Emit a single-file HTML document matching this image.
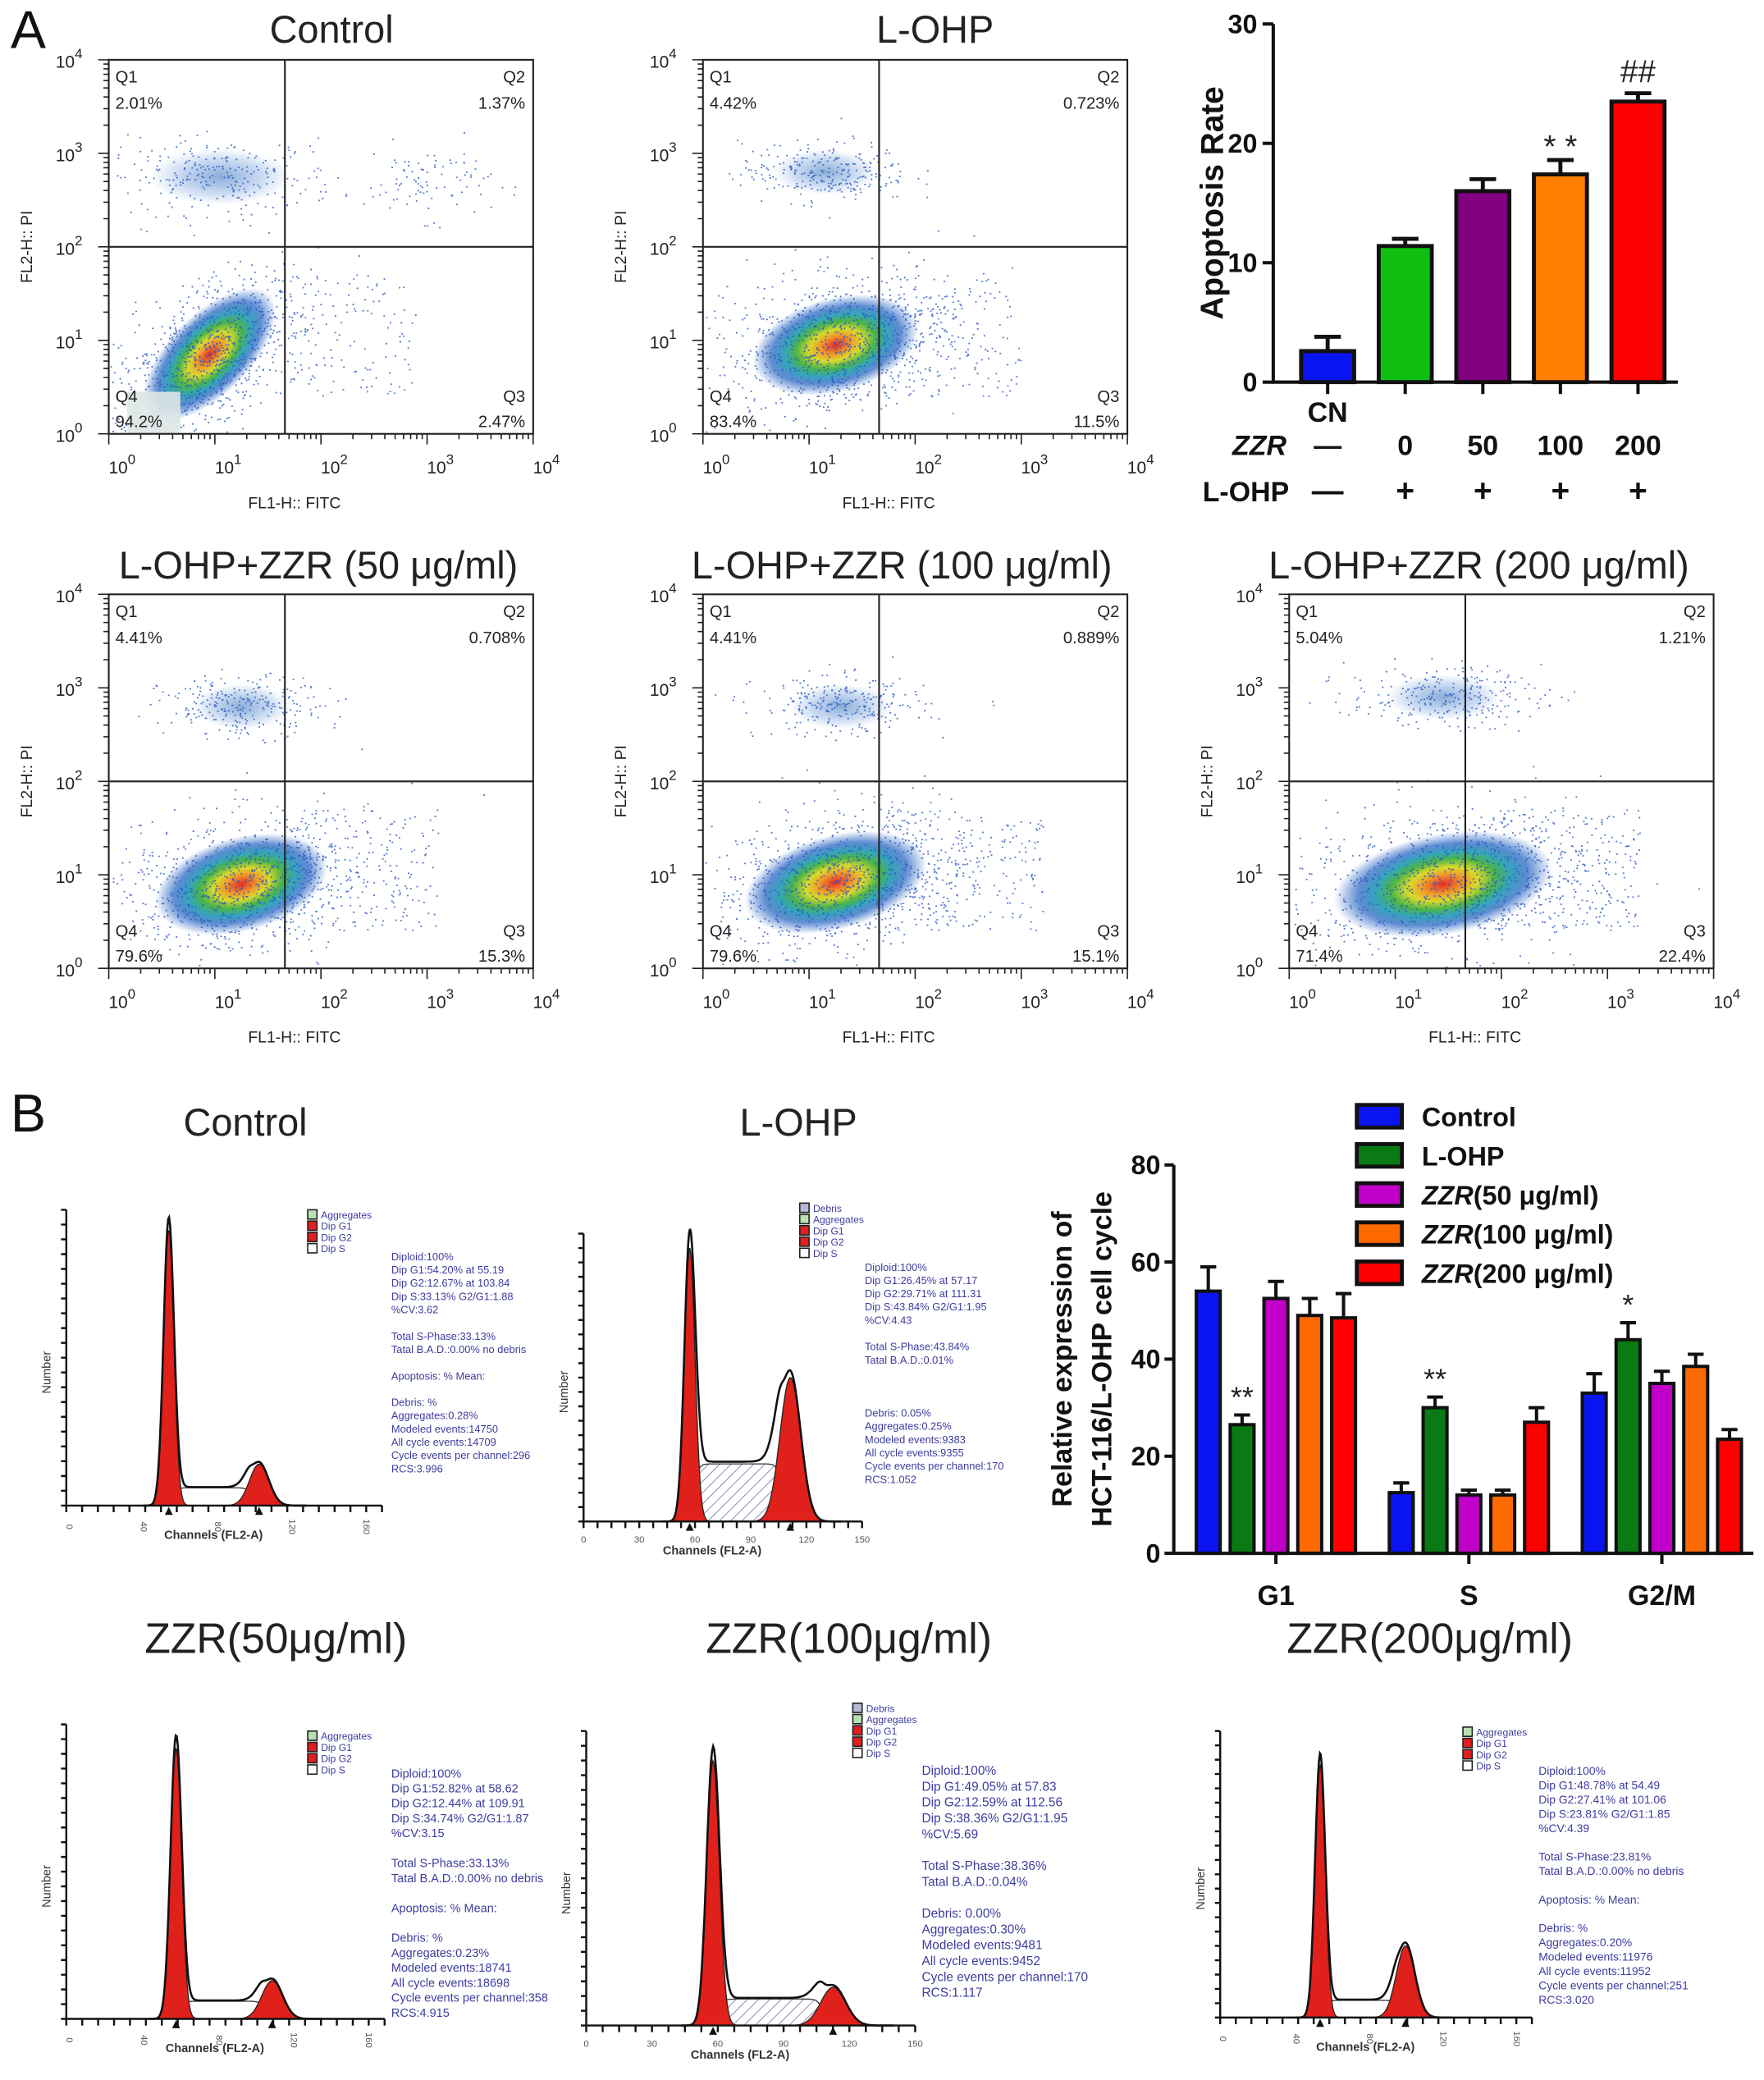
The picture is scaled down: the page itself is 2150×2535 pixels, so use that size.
<!DOCTYPE html>
<html><head><meta charset="utf-8"><style>
html,body{margin:0;padding:0;background:#fff;}
svg{display:block;font-family:"Liberation Sans",Arial,sans-serif;}
</style></head><body>
<svg id="fig" xmlns="http://www.w3.org/2000/svg" width="2150" height="2535" viewBox="0 0 1330 1568">
<rect x="0" y="0" width="1330" height="1568" fill="#fff"/>
<defs>
<radialGradient id="cloud" cx="50%" cy="50%" r="50%">
<stop offset="0" stop-color="#e8201a"/>
<stop offset="0.18" stop-color="#f09020"/>
<stop offset="0.32" stop-color="#d8d820"/>
<stop offset="0.48" stop-color="#40b040"/>
<stop offset="0.62" stop-color="#2aa0b8"/>
<stop offset="0.78" stop-color="#2060c0" stop-opacity="0.75"/>
<stop offset="1" stop-color="#2060c0" stop-opacity="0"/>
</radialGradient>
<radialGradient id="cloudUp" cx="50%" cy="50%" r="50%">
<stop offset="0" stop-color="#2a6ab8" stop-opacity="0.55"/>
<stop offset="0.6" stop-color="#3070c8" stop-opacity="0.25"/>
<stop offset="1" stop-color="#3070c8" stop-opacity="0"/>
</radialGradient>
<pattern id="hatch" width="6" height="6" patternUnits="userSpaceOnUse" patternTransform="rotate(45)">
<rect width="6" height="6" fill="#fff"/><line x1="0" y1="0" x2="0" y2="6" stroke="#7070a0" stroke-width="1"/>
</pattern>
</defs>
<g id="root"></g>
</svg>
<script>
// ---------- Panel A bar chart data ----------
const aptCats = ['CN','0','50','100','200'];
const aptLOHP = ['—','+','+','+','+'];
const aptZZR = ['—','0','50','100','200'];
const aptValues = [2.6, 11.4, 16.0, 17.4, 23.5];
const aptErrors = [1.2, 0.6, 1.0, 1.2, 0.7];
const aptTicks = [0, 10, 20, 30];
const aptColors = ['#0a14f0','#10c010','#800080','#ff8000','#ff0000'];
// ---------- Panel B bar chart data ----------
const ccPhases = ['G1','S','G2/M'];
const ccSeries = ['Control','L-OHP','ZZR(50 μg/ml)','ZZR(100 μg/ml)','ZZR(200 μg/ml)'];
const ccControl = [54, 12.5, 33];
const ccLOHP = [26.5, 30, 44];
const ccZZR50 = [52.5, 12, 35];
const ccZZR100 = [49, 12, 38.5];
const ccZZR200 = [48.5, 27, 23.5];
const ccErrControl = [5, 2, 4];
const ccErrLOHP = [2, 2.2, 3.5];
const ccErrZZR50 = [3.5, 1, 2.5];
const ccErrZZR100 = [3.5, 1, 2.5];
const ccErrZZR200 = [5, 3, 2];
const ccTicks = [0, 20, 40, 60, 80];
const ccColors = ['#0a14f0','#0a7a14','#c000c8','#ff6a00','#ff0000'];
// ---------- Flow plots quadrant percentages ----------
const flowTitles = ['Control','L-OHP','L-OHP+ZZR (50 μg/ml)','L-OHP+ZZR (100 μg/ml)','L-OHP+ZZR (200 μg/ml)'];
const flowQ1 = ['2.01%','4.42%','4.41%','4.41%','5.04%'];
const flowQ2 = ['1.37%','0.723%','0.708%','0.889%','1.21%'];
const flowQ3 = ['2.47%','11.5%','15.3%','15.1%','22.4%'];
const flowQ4 = ['94.2%','83.4%','79.6%','79.6%','71.4%'];

const NS='http://www.w3.org/2000/svg';
const root=document.getElementById('root');
function mk(tag,attrs,parent){const e=document.createElementNS(NS,tag);for(const k in attrs)e.setAttribute(k,attrs[k]);(parent||root).appendChild(e);return e;}
function nm(e,n){


return e;}
function txt(x,y,s,attrs,parent){const t=mk('text',Object.assign({x:x,y:y},attrs),parent);t.textContent=s;return t;}
function pw(x,y,exp,size,parent,anchor){const t=mk('text',{x:x,y:y,'font-size':size,fill:'#222','text-anchor':anchor||'middle'},parent);t.textContent='10';const s=mk('tspan',{dy:-size*0.55,'font-size':size*0.8},t);s.textContent=exp;return t;}

nm(txt(8,36,'A',{'font-size':40,fill:'#111'}),'panel-a-label');
nm(txt(8,853,'B',{'font-size':40,fill:'#111'}),'panel-b-label');

// ---------- Flow plots ----------
let seed=12345;function rnd(){seed=(seed*1103515245+12345)%2147483648;return seed/2147483648;}
function gauss(){let u=rnd()||1e-6,v=rnd();return Math.sqrt(-2*Math.log(u))*Math.cos(2*Math.PI*v);}
const flowPos=[[82,45],[530,45],[82,448],[530,448],[972,448]];
const flowMain=[[0.95,0.85,0.5,0.24,-45],[1.25,0.95,0.5,0.28,-15],[1.25,0.9,0.52,0.28,-15],[1.25,0.92,0.55,0.28,-15],[1.45,0.9,0.65,0.3,-10]];
const flowUp=[[1.05,2.75,0.55,0.2],[1.15,2.8,0.4,0.16],[1.25,2.8,0.38,0.16],[1.3,2.8,0.4,0.16],[1.45,2.9,0.45,0.16]];
const titleX=[250,705,240,680,1115];
const titleY=[32,32,436,436,436];
flowPos.forEach((p,i)=>{
 const g=nm(mk('g',{}),'flow-plot-'+(i+1));
 const [px,py]=p,w=320,h=282,dx=w/4,dy=h/4;
 const X=d=>px+d*dx,Y=d=>py+h-d*dy;
 nm(txt(titleX[i],titleY[i],flowTitles[i],{'font-size':29,'text-anchor':'middle',fill:'#222'},g),'flow-title');
 const m=flowMain[i];
 const cx=X(m[0]),cy=Y(m[1]);
 nm(mk('ellipse',{cx:cx,cy:cy,rx:m[2]*dx*1.6,ry:m[3]*dy*1.8,fill:'url(#cloud)',transform:`rotate(${m[4]} ${cx} ${cy})`,opacity:0.95},g),'cell-density-cloud');
 const u=flowUp[i];
 nm(mk('ellipse',{cx:X(u[0]),cy:Y(u[1]),rx:u[2]*dx*1.2,ry:u[3]*dy*1.5,fill:'url(#cloudUp)'},g),'dead-cell-cloud');
 let d='';
 const dot=(x,y)=>{if(x>px+1&&x<px+w-1&&y>py+1&&y<py+h-1)d+=`M${x.toFixed(1)} ${y.toFixed(1)}h1.2`;};
 for(let k=0;k<900;k++){const a=gauss()*m[2]*1.1,b=gauss()*m[3]*1.3,r=m[4]*Math.PI/180;dot(cx+(a*Math.cos(r)-b*Math.sin(r))*dx,cy+(a*Math.sin(r)+b*Math.cos(r))*dy);}
 for(let k=0;k<260;k++)dot(X(u[0]+gauss()*u[2]),Y(u[1]+gauss()*u[3]));
 if(i===0)for(let k=0;k<90;k++)dot(X(3.0+gauss()*0.3),Y(2.7+gauss()*0.2));
 for(let k=0;k<120+i*40;k++)dot(X(1.7+rnd()*(1.2+i*0.1)),Y(0.4+rnd()*1.3));
 nm(mk('path',{d:d,stroke:'#2858c0','stroke-width':1.1,fill:'none',opacity:0.8},g),'cell-dots');
 if(i===0)nm(mk('rect',{x:px+14,y:Y(0.45),width:40,height:h-(Y(0.45)-py)-0.5,fill:'#dde6e6',opacity:0.9},g),'gate-highlight');
 nm(mk('rect',{x:px,y:py,width:w,height:h,fill:'none',stroke:'#222','stroke-width':1.3},g),'plot-frame');
 const qx=X(1.66),qy=Y(2);
 nm(mk('line',{x1:qx,y1:py,x2:qx,y2:py+h,stroke:'#222','stroke-width':1.3},g),'quadrant-vertical');
 nm(mk('line',{x1:px,y1:qy,x2:px+w,y2:qy,stroke:'#222','stroke-width':1.3},g),'quadrant-horizontal');
 let t='';
 for(let dd=0;dd<4;dd++)for(let k=1;k<=10;k++){const f=dd+Math.log10(k);const L=k===1?8:4;t+=`M${X(f)} ${py+h}v${L}M${px} ${Y(f)}h${-L}`;}
 t+=`M${X(4)} ${py+h}v8M${px} ${Y(4)}h-8`;
 nm(mk('path',{d:t,stroke:'#222','stroke-width':1},g),'axis-ticks');
 for(let k=0;k<=4;k++){nm(pw(X(k)+10,py+h+30,String(k),13,g),'x-tick-label');nm(pw(px-30,Y(k)+6,String(k),13,g),'y-tick-label');}
 nm(txt(px+w/2-20,py+h+56,'FL1-H:: FITC',{'font-size':12,'text-anchor':'middle',fill:'#222'},g),'x-axis-title');
 nm(txt(0,0,'FL2-H:: PI',{'font-size':12,'text-anchor':'middle',fill:'#222',transform:`translate(${px-58},${py+h/2}) rotate(-90)`},g),'y-axis-title');
 const fs=12.5;
 nm(txt(px+5,py+17,'Q1',{'font-size':fs,fill:'#222'},g),'q1-label');
 nm(txt(px+5,py+37,flowQ1[i],{'font-size':fs,fill:'#222'},g),'q1-percent');
 nm(txt(px+w-6,py+17,'Q2',{'font-size':fs,fill:'#222','text-anchor':'end'},g),'q2-label');
 nm(txt(px+w-6,py+37,flowQ2[i],{'font-size':fs,fill:'#222','text-anchor':'end'},g),'q2-percent');
 nm(txt(px+5,py+h-24,'Q4',{'font-size':fs,fill:'#222'},g),'q4-label');
 nm(txt(px+5,py+h-5,flowQ4[i],{'font-size':fs,fill:'#222'},g),'q4-percent');
 nm(txt(px+w-6,py+h-24,'Q3',{'font-size':fs,fill:'#222','text-anchor':'end'},g),'q3-label');
 nm(txt(px+w-6,py+h-5,flowQ3[i],{'font-size':fs,fill:'#222','text-anchor':'end'},g),'q3-percent');
});

// ---------- Panel A bar chart ----------
(function(){
 const g=nm(mk('g',{}),'apoptosis-bar-chart');
 const y0=288,ppu=9,ax=960,axEnd=1265;
 const yS=v=>y0-v*ppu, xS=i=>1001+i*58.5, bw=40;
 aptValues.forEach((v,i)=>{
  const x=xS(i);
  const e=aptErrors[i];
  nm(mk('path',{d:`M${x} ${yS(v)}V${yS(v+e)}M${x-10} ${yS(v+e)}h20`,stroke:'#111','stroke-width':3,fill:'none'},g),'error-bar');
  nm(mk('rect',{x:x-bw/2,y:yS(v),width:bw,height:v*ppu,fill:aptColors[i],stroke:'#111','stroke-width':3},g),'bar-'+aptCats[i]);
  nm(mk('line',{x1:x,y1:y0,x2:x,y2:y0+9,stroke:'#111','stroke-width':2.5},g),'x-tick');
  nm(txt(x,343,aptZZR[i],{'font-size':21,'font-weight':'bold','text-anchor':'middle',fill:'#111'},g),'zzr-dose-label');
  nm(txt(x,378,aptLOHP[i],{'font-size':24,'font-weight':'bold','text-anchor':'middle',fill:'#111'},g),'lohp-sign');
 });
 nm(mk('path',{d:`M${ax} ${yS(30)}V${y0}H${axEnd}`,stroke:'#111','stroke-width':2.5,fill:'none'},g),'axes');
 aptTicks.forEach(v=>{
  nm(mk('line',{x1:ax-8,y1:yS(v),x2:ax,y2:yS(v),stroke:'#111','stroke-width':2.5},g),'y-tick');
  nm(txt(ax-12,yS(v)+7,String(v),{'font-size':20,'font-weight':'bold','text-anchor':'end',fill:'#111'},g),'y-tick-label');
 });
 nm(txt(0,0,'Apoptosis Rate',{'font-size':24,'font-weight':'bold','text-anchor':'middle',fill:'#111',transform:`translate(922,${yS(15)}) rotate(-90)`},g),'y-axis-title');
 nm(txt(xS(0),318,'CN',{'font-size':21,'font-weight':'bold','text-anchor':'middle',fill:'#111'},g),'cn-label');
 nm(txt(970,343,'ZZR',{'font-size':21,'font-weight':'bold','font-style':'italic','text-anchor':'end',fill:'#111'},g),'zzr-row-label');
 nm(txt(972,378,'L-OHP',{'font-size':21,'font-weight':'bold','text-anchor':'end',fill:'#111'},g),'lohp-row-label');
 nm(txt(xS(3),yS(aptValues[3]+aptErrors[3])-2,'* *',{'font-size':24,'text-anchor':'middle',fill:'#222'},g),'significance-stars');
 nm(txt(xS(4),yS(aptValues[4]+aptErrors[4])-8,'##',{'font-size':24,'text-anchor':'middle',fill:'#222'},g),'significance-hash');
})();

// ---------- Panel B bar chart ----------
(function(){
 const g=nm(mk('g',{}),'cell-cycle-bar-chart');
 const y0=1171,ppu=3.66,ax=885,axEnd=1322;
 const yS=v=>y0-v*ppu, bw=18;
 const xS=(gi,si)=>911+gi*145.5+si*25.5;
 const series=[ccControl,ccLOHP,ccZZR50,ccZZR100,ccZZR200];
 const errs=[ccErrControl,ccErrLOHP,ccErrZZR50,ccErrZZR100,ccErrZZR200];
 series.forEach((arr,si)=>arr.forEach((v,gi)=>{
  const x=xS(gi,si),e=errs[si][gi];
  nm(mk('path',{d:`M${x} ${yS(v)}V${yS(v+e)}M${x-6} ${yS(v+e)}h12`,stroke:'#111','stroke-width':2.5,fill:'none'},g),'error-bar');
  nm(mk('rect',{x:x-bw/2,y:yS(v),width:bw,height:v*ppu,fill:ccColors[si],stroke:'#111','stroke-width':2.5},g),'bar-'+ccPhases[gi]+'-'+si);
 }));
 nm(mk('path',{d:`M${ax} ${yS(80)}V${y0}H${axEnd}`,stroke:'#111','stroke-width':2.5,fill:'none'},g),'axes');
 ccTicks.forEach(v=>{
  nm(mk('line',{x1:ax-7,y1:yS(v),x2:ax,y2:yS(v),stroke:'#111','stroke-width':2.5},g),'y-tick');
  nm(txt(ax-10,yS(v)+7,String(v),{'font-size':20,'font-weight':'bold','text-anchor':'end',fill:'#111'},g),'y-tick-label');
 });
 ccPhases.forEach((p,gi)=>{
  const x=xS(gi,2);
  nm(mk('line',{x1:x,y1:y0,x2:x,y2:y0+8,stroke:'#111','stroke-width':2.5},g),'x-tick');
  nm(txt(x,1210,p,{'font-size':21,'font-weight':'bold','text-anchor':'middle',fill:'#111'},g),'x-tick-label');
 });
 nm(txt(0,0,'Relative expression of',{'font-size':21,'font-weight':'bold','text-anchor':'middle',fill:'#111',transform:`translate(808,${yS(40)}) rotate(-90)`},g),'y-axis-title-line1');
 nm(txt(0,0,'HCT-116/L-OHP cell cycle',{'font-size':21,'font-weight':'bold','text-anchor':'middle',fill:'#111',transform:`translate(838,${yS(40)}) rotate(-90)`},g),'y-axis-title-line2');
 nm(txt(xS(0,1),yS(ccLOHP[0]+ccErrLOHP[0])-6,'**',{'font-size':22,'text-anchor':'middle',fill:'#222'},g),'sig-g1');
 nm(txt(xS(1,1),yS(ccLOHP[1]+ccErrLOHP[1])-6,'**',{'font-size':22,'text-anchor':'middle',fill:'#222'},g),'sig-s');
 nm(txt(xS(2,1),yS(ccLOHP[2]+ccErrLOHP[2])-6,'*',{'font-size':22,'text-anchor':'middle',fill:'#222'},g),'sig-g2m');
 ccSeries.forEach((s,si)=>{
  const ly=833+si*29.5;
  const lg=nm(mk('g',{},g),'legend-entry');
  nm(mk('rect',{x:1023,y:ly,width:34,height:17,fill:ccColors[si],stroke:'#111','stroke-width':3},lg),'legend-swatch');
  const t=nm(txt(1072,ly+16,'',{'font-size':20,'font-weight':'bold',fill:'#111'},lg),'legend-label');
  if(si>=2){const a=mk('tspan',{'font-style':'italic'},t);a.textContent='ZZR';const b=mk('tspan',{},t);b.textContent=s.slice(3);}else t.textContent=s;
 });
})();

// ---------- Histograms ----------
const histTitles=['Control','L-OHP','ZZR(50μg/ml)','ZZR(100μg/ml)','ZZR(200μg/ml)'];
const histG1Pos=[55.19,57.17,58.62,57.83,54.49];
const histG2Pos=[103.84,111.31,109.91,112.56,101.06];
const histG1H=[0.93,0.95,0.92,0.9,0.88];
const histG2H=[0.14,0.5,0.13,0.13,0.25];
const histSH=[0.06,0.2,0.06,0.09,0.06];
const histText=[
 ['Diploid:100%',' Dip G1:54.20% at 55.19',' Dip G2:12.67% at 103.84',' Dip S:33.13% G2/G1:1.88',' %CV:3.62','','Total S-Phase:33.13%','Tatal B.A.D.:0.00% no debris','','Apoptosis: % Mean:','','Debris: %','Aggregates:0.28%','Modeled events:14750','All cycle events:14709','Cycle events per channel:296','RCS:3.996'],
 ['Diploid:100%',' Dip G1:26.45% at 57.17',' Dip G2:29.71% at 111.31',' Dip S:43.84% G2/G1:1.95',' %CV:4.43','','Total S-Phase:43.84%','Tatal B.A.D.:0.01%','','','','Debris: 0.05%','Aggregates:0.25%','Modeled events:9383','All cycle events:9355','Cycle events per channel:170','RCS:1.052'],
 ['Diploid:100%',' Dip G1:52.82% at 58.62',' Dip G2:12.44% at 109.91',' Dip S:34.74% G2/G1:1.87',' %CV:3.15','','Total S-Phase:33.13%','Tatal B.A.D.:0.00% no debris','','Apoptosis: % Mean:','','Debris: %','Aggregates:0.23%','Modeled events:18741','All cycle events:18698','Cycle events per channel:358','RCS:4.915'],
 ['Diploid:100%',' Dip G1:49.05% at 57.83',' Dip G2:12.59% at 112.56',' Dip S:38.36% G2/G1:1.95',' %CV:5.69','','Total S-Phase:38.36%','Tatal B.A.D.:0.04%','','Debris: 0.00%','Aggregates:0.30%','Modeled events:9481','All cycle events:9452','Cycle events per channel:170','RCS:1.117'],
 ['Diploid:100%',' Dip G1:48.78% at 54.49',' Dip G2:27.41% at 101.06',' Dip S:23.81% G2/G1:1.85',' %CV:4.39','','Total S-Phase:23.81%','Tatal B.A.D.:0.00% no debris','','Apoptosis: % Mean:','','Debris: %','Aggregates:0.20%','Modeled events:11976','All cycle events:11952','Cycle events per channel:251','RCS:3.020']
];
const histLegend=[['Aggregates','Dip G1','Dip G2','Dip S'],['Debris','Aggregates','Dip G1','Dip G2','Dip S'],['Aggregates','Dip G1','Dip G2','Dip S'],['Debris','Aggregates','Dip G1','Dip G2','Dip S'],['Aggregates','Dip G1','Dip G2','Dip S']];
const legCol={'Aggregates':'#b8e0b0','Dip G1':'#e02020','Dip G2':'#e02020','Dip S':'#fff','Debris':'#b8b8d8'};
const histGeom=[[50,288,1135,912,170],[440,650,1147,930,150],[50,290,1522,1300,170],[442,690,1527,1305,150],[920,1155,1521,1305,170]];
const histLegPos=[[232,912],[603,907],[232,1305],[643,1284],[1103,1302]];
const histTextPos=[[295,950,10.2],[652,958,10.2],[295,1340,11.5],[695,1338,12.2],[1160,1338,11]];
const histTitlePos=[[185,856],[602,856],[208,1246],[640,1246],[1078,1246]];
histGeom.forEach((G,i)=>{
 const g=nm(mk('g',{}),'histogram-'+(i+1));
 const [x0,x1,yb,yt,mx]=G,H=yb-yt;
 const X=c=>x0+(c/mx)*(x1-x0),Y=f=>yb-f*H;
 nm(txt(histTitlePos[i][0],histTitlePos[i][1],histTitles[i],{'font-size':i<2?29:32,'text-anchor':'middle',fill:'#222'},g),'histogram-title');
 const c1=histG1Pos[i],c2=histG2Pos[i],s1=c1*0.05,s2=c2*0.05;
 const g1=c=>histG1H[i]*Math.exp(-((c-c1)**2)/(2*s1*s1));
 const g2=c=>histG2H[i]*Math.exp(-((c-c2)**2)/(2*s2*s2));
 const sp=c=>histSH[i]/(1+Math.exp(-(c-c1-s1*0.8)/1.2))/(1+Math.exp((c-c2+s2*0.8)/1.2));
 const pathOf=(f,a,b)=>{let d=`M${X(a)} ${yb}`;for(let c=a;c<=b;c+=0.5)d+=`L${X(c).toFixed(1)} ${Y(f(c)).toFixed(1)}`;return d+`L${X(b)} ${yb}Z`;};
 nm(mk('path',{d:pathOf(sp,c1-4*s1,c2+4*s2),fill:(i===1||i===3)?'url(#hatch)':'#fff',stroke:'#333','stroke-width':0.8},g),'s-phase-area');
 nm(mk('path',{d:pathOf(g1,c1-4*s1,c1+4*s1),fill:'#e0201a',stroke:'#222','stroke-width':0.8},g),'g1-peak');
 nm(mk('path',{d:pathOf(g2,c2-4*s2,c2+4*s2),fill:'#e0201a',stroke:'#222','stroke-width':0.8},g),'g2-peak');
 const tot=c=>g1(c)+g2(c)+sp(c);
 let d='';for(let c=c1-5*s1;c<=c2+5*s2;c+=0.5)d+=(d?'L':'M')+X(c).toFixed(1)+' '+Y(tot(c)*1.04).toFixed(1);
 nm(mk('path',{d:d,fill:'none',stroke:'#111','stroke-width':1.6},g),'histogram-outline');
 let t=`M${x0} ${yt}V${yb}H${x1}`;
 for(let k=0;k<=20;k++)t+=`M${x0+k*(x1-x0)/20} ${yb}v5`;
 for(let k=0;k<=20;k++)t+=`M${x0} ${yb-k*H/20}h-4`;
 nm(mk('path',{d:t,stroke:'#111','stroke-width':1.5,fill:'none'},g),'histogram-axes');
 nm(mk('path',{d:`M${X(c1)-3} ${yb+7}l3 -6l3 6zM${X(c2)-3} ${yb+7}l3 -6l3 6z`,fill:'#111'},g),'peak-markers');
 const xl=mx===150?[0,30,60,90,120,150]:[0,40,80,120,160];
 xl.forEach(v=>nm(txt(0,0,String(v),{'font-size':7,fill:'#555','text-anchor':'middle',transform:`translate(${X(v)},${yb+16}) rotate(${mx===150?0:90})`},g),'x-tick-label'));
 nm(txt((x0+x1)/2-8,yb+25,'Channels (FL2-A)',{'font-size':9,'font-weight':'bold','text-anchor':'middle',fill:'#333'},g),'x-axis-title');
 nm(txt(0,0,'Number',{'font-size':9,'text-anchor':'middle',fill:'#333',transform:`translate(${x0-12},${yb-H*0.45}) rotate(-90)`},g),'y-axis-title');
 const [lx,ly]=histLegPos[i];
 histLegend[i].forEach((s,k)=>{
  const e=nm(mk('g',{},g),'histogram-legend-entry');
  mk('rect',{x:lx,y:ly+k*8.5,width:7,height:7,fill:legCol[s],stroke:'#222','stroke-width':1},e);
  txt(lx+10,ly+k*8.5+6.5,s,{'font-size':7.5,fill:'#3c3ca0'},e);
 });
 const [tx,ty,lh]=histTextPos[i];
 const tb=nm(mk('g',{},g),'histogram-stats-text');
 histText[i].forEach((s,k)=>{if(s)txt(tx,ty+k*lh*0.98,s,{'font-size':lh*0.78,fill:'#3c3ca0','xml:space':'preserve'},tb);});
});
</script>
</body></html>
